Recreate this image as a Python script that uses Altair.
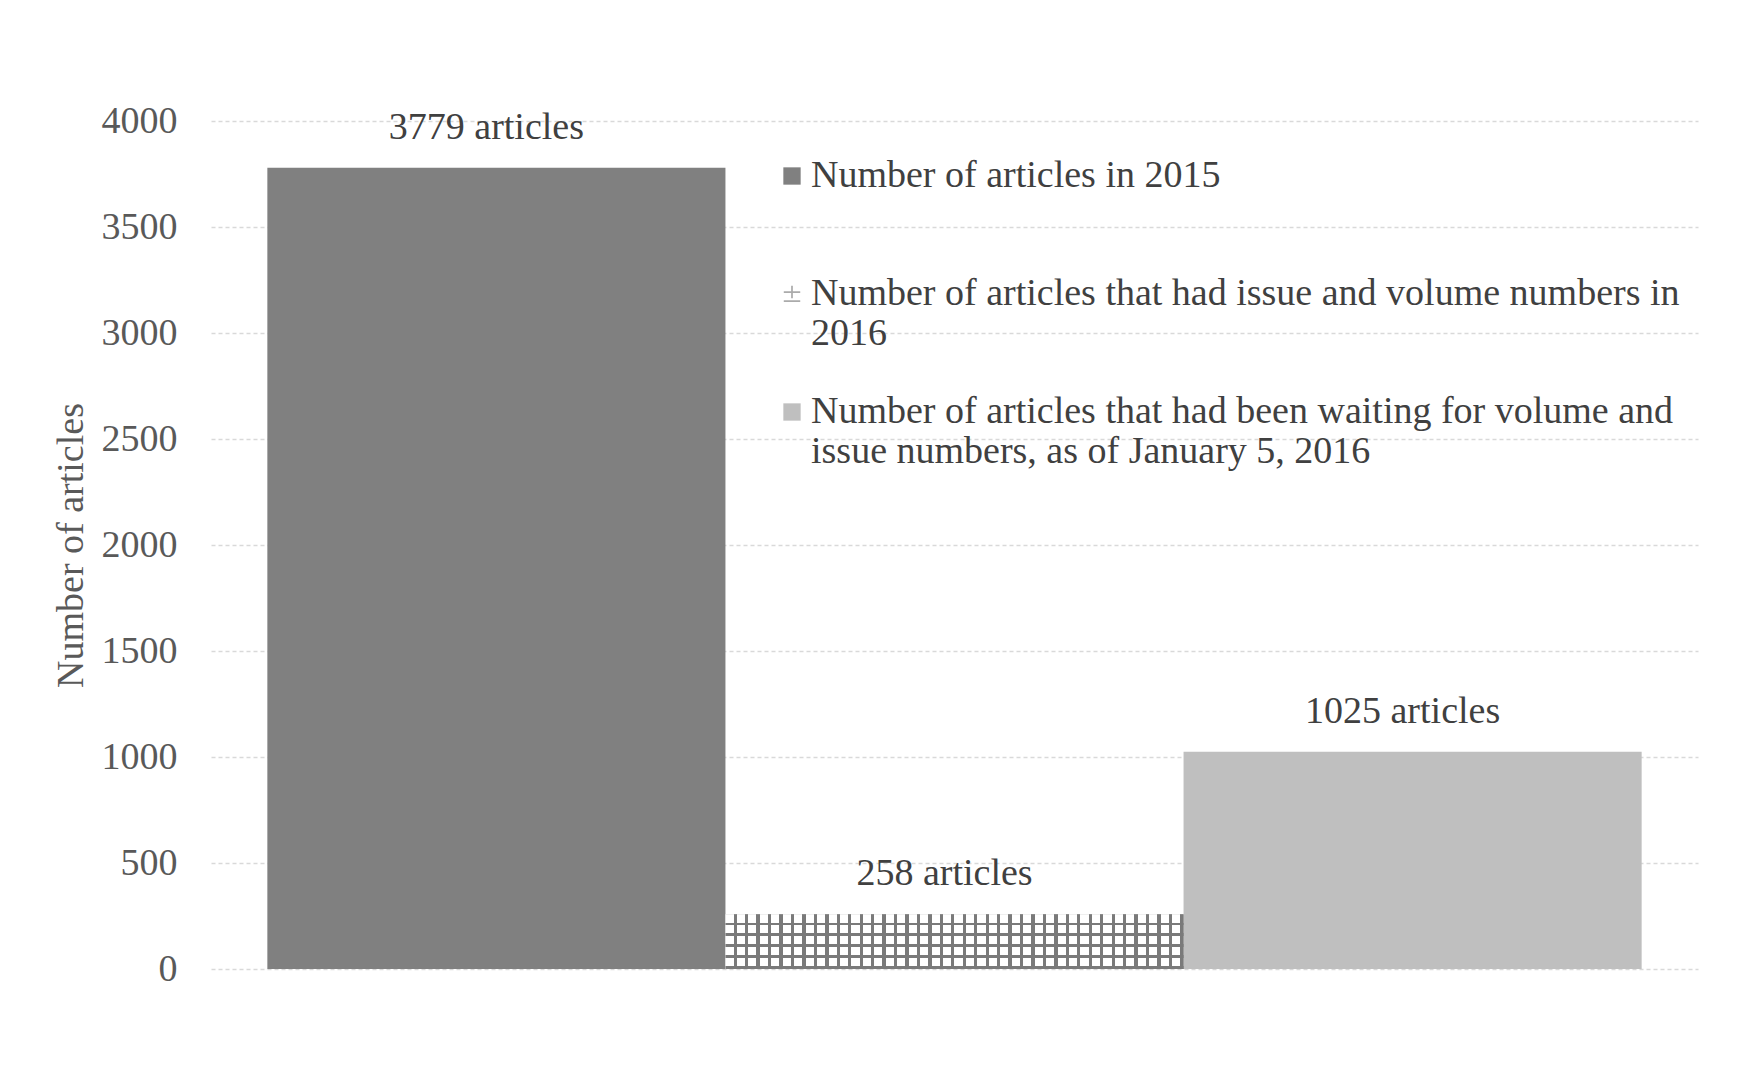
import json
import altair as alt
import pandas as pd

# ---------------- data ----------------
SERIES = [
    "Number of articles in 2015",
    "Number of articles that had issue and volume numbers in 2016",
    "Number of articles that had been waiting for volume and issue numbers, as of January 5, 2016",
]
VALUES = [3779, 258, 1025]
BAR_LABELS = ["3779 articles", "258 articles", "1025 articles"]
LEGEND_LINES = [
    ["Number of articles in 2015", ""],
    ["Number of articles that had issue and volume numbers in", "2016"],
    ["Number of articles that had been waiting for volume and", "issue numbers, as of January 5, 2016"],
]
Y_TICKS = [0, 500, 1000, 1500, 2000, 2500, 3000, 3500, 4000]
Y_TITLE = "Number of articles"

# ---------------- style ----------------
COLORS = ["#808080", "#ababab", "#bfbfbf"]
HATCH = "#7a7a7a"
FONT = "Liberation Serif"
FS = 38
PM_PATH = ("M-0.95,-0.32H0.95V-0.12H-0.95Z"
           "M-0.1,-0.95H0.1V0.5H-0.1Z"
           "M-0.95,0.72H0.95V0.92H-0.95Z")

df = pd.DataFrame({"series": SERIES, "value": VALUES, "label": BAR_LABELS})


def stripe_gradient(n, frac, line, gap, horizontal):
    stops = []
    for k in range(n):
        a = k / n
        b = (k + 1) / n
        m = b - frac / n
        stops += [
            {"offset": round(a, 6), "color": gap},
            {"offset": round(m, 6), "color": gap},
            {"offset": round(m, 6), "color": line},
            {"offset": round(b, 6), "color": line},
        ]
    g = {"gradient": "linear", "stops": stops}
    if horizontal:
        g.update({"x1": 0, "x2": 1, "y1": 0, "y2": 0})
    else:
        g.update({"x1": 0, "x2": 0, "y1": 0, "y2": 1})
    return g


vert_lines = stripe_gradient(40, 0.29, HATCH, "#ffffff", True)
horiz_lines = stripe_gradient(5, 0.25, HATCH, "rgba(255,255,255,0)", False)

label_expr = (
    f"datum.label === {json.dumps(SERIES[0])} ? {json.dumps(LEGEND_LINES[0])} : "
    f"datum.label === {json.dumps(SERIES[1])} ? {json.dumps(LEGEND_LINES[1])} : "
    f"{json.dumps(LEGEND_LINES[2])}"
)

x_enc = alt.X(
    "series:N",
    sort=SERIES,
    axis=None,
    scale=alt.Scale(domain=SERIES, paddingInner=0, paddingOuter=0.123),
)
y_scale = alt.Scale(domain=[0, 4000], nice=False)
y_axis = alt.Axis(
    values=Y_TICKS,
    format="d",
    grid=True,
    gridDash=[4, 3],
    gridColor="#d9d9d9",
    gridWidth=1.5,
    domain=False,
    ticks=False,
    labelFont=FONT,
    labelFontSize=FS,
    labelColor="#595959",
    labelPadding=34,
    title=Y_TITLE,
    titleFont=FONT,
    titleFontSize=FS,
    titleFontWeight="normal",
    titleColor="#595959",
    titleAngle=270,
    titleAlign="center",
    titleBaseline="alphabetic",
    titleX=-129,
    titleY=424,
)


def y_enc(field):
    return alt.Y(field, scale=y_scale, axis=y_axis, title=Y_TITLE)


color_scale = alt.Scale(domain=SERIES, range=COLORS)

base = alt.Chart(df)

bars = base.mark_bar().encode(
    x=x_enc,
    y=y_enc("value:Q"),
    color=alt.Color("series:N", scale=color_scale, legend=None),
)

# points only carry the legend symbols (they sit hidden beneath the bars)
legend_pts = base.transform_calculate(mid="datum.value / 2").mark_point(
    filled=True, opacity=1, size=300, strokeWidth=0
).encode(
    x=x_enc,
    y=y_enc("mid:Q"),
    color=alt.Color("series:N", scale=color_scale, legend=alt.Legend(
        title=None,
        orient="none",
        legendX=557,
        legendY=36,
        padding=0,
        direction="vertical",
        labelExpr=label_expr,
        labelFont=FONT,
        labelFontSize=FS,
        labelColor="#404040",
        labelLimit=3000,
        labelOffset=0,
        labelBaseline="middle",
        symbolSize=300,
        symbolOffset=5,
        symbolStrokeWidth=0,
        rowPadding=40,
    )),
    shape=alt.Shape("series:N", scale=alt.Scale(domain=SERIES, range=["square", PM_PATH, "square"])),
)

hatch_v = base.transform_filter(alt.datum.series == SERIES[1]).mark_bar(fill=vert_lines).encode(
    x=x_enc, y=y_enc("value:Q")
)
hatch_h = base.transform_filter(alt.datum.series == SERIES[1]).mark_bar(fill=horiz_lines).encode(
    x=x_enc, y=y_enc("value:Q")
)

labels = base.mark_text(
    font=FONT, fontSize=FS, color="#404040", baseline="middle", dy=-40, dx=-10
).encode(
    x=x_enc,
    y=y_enc("value:Q"),
    text="label:N",
)

chart = alt.layer(legend_pts, bars, hatch_v, hatch_h, labels).properties(
    width=1487,
    height=848,
    autosize=alt.AutoSizeParams(type="none"),
    padding={"left": 203, "top": 113, "right": 40, "bottom": 100},
    background="#ffffff",
).configure_view(stroke=None)

chart.save("out.html", embed_options={"renderer": "svg", "actions": False})
